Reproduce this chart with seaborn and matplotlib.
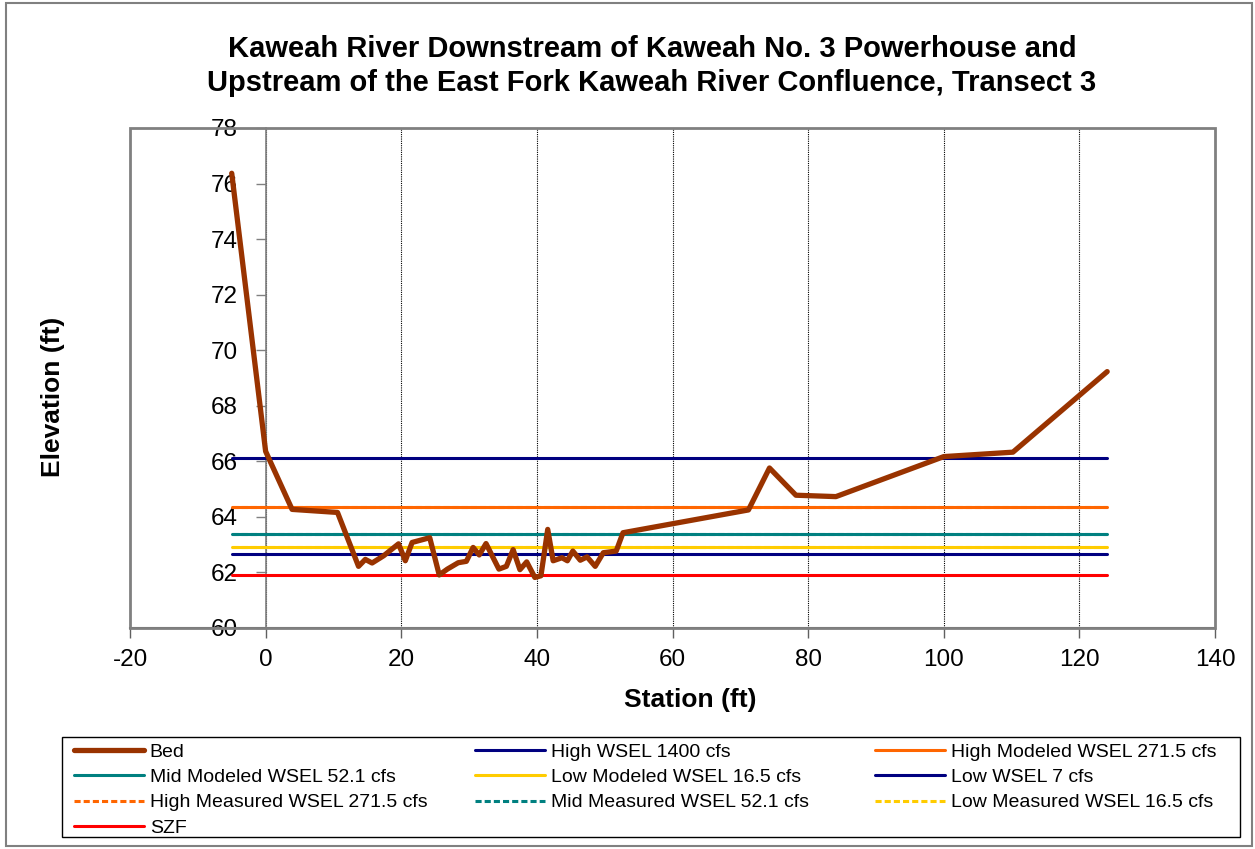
import numpy as np
import pandas as pd
import matplotlib
matplotlib.use("Agg")
import matplotlib.pyplot as plt
from matplotlib.patches import Rectangle
from matplotlib.lines import Line2D
import seaborn as sns

# ---------------- data ----------------
title_lines = ["Kaweah River Downstream of Kaweah No. 3 Powerhouse and",
               "Upstream of the East Fork Kaweah River Confluence, Transect 3"]
x_label = "Station (ft)"
y_label = "Elevation (ft)"

bed_x = [-5, 0, 3.9, 10.6, 13.7, 14.7, 15.7, 17.4, 19.6, 20.6, 21.6, 24.2,
         25.6, 26.8, 28.4, 29.6, 30.6, 31.5, 32.5, 34.4, 35.5, 36.5, 37.5,
         38.5, 39.7, 40.6, 41.6, 42.4, 43.7, 44.5, 45.3, 46.4, 47.4, 48.6,
         49.8, 51.7, 52.7, 71.2, 74.3, 78.2, 84.1, 100.0, 110.2, 124.1]
bed_y = [76.37, 66.36, 64.27, 64.16, 62.22, 62.47, 62.34, 62.60, 63.03, 62.42,
         63.08, 63.25, 61.91, 62.12, 62.35, 62.40, 62.90, 62.63, 63.04, 62.12,
         62.22, 62.82, 62.10, 62.38, 61.82, 61.88, 63.55, 62.42, 62.53, 62.42,
         62.77, 62.44, 62.56, 62.22, 62.71, 62.77, 63.43, 64.25, 65.76, 64.78,
         64.73, 66.17, 66.33, 69.23]

wsel_names = ["High WSEL 1400 cfs", "High Modeled WSEL 271.5 cfs",
              "Mid Modeled WSEL 52.1 cfs", "Low Modeled WSEL 16.5 cfs",
              "Low WSEL 7 cfs", "High Measured WSEL 271.5 cfs",
              "Mid Measured WSEL 52.1 cfs", "Low Measured WSEL 16.5 cfs", "SZF"]
wsel_values = [66.12, 64.35, 63.37, 62.92, 62.68, 64.37, 63.40, 62.93, 61.90]
wsel_start = [-5, -5, -5, -5, -5, -5, -5, -5, -5]
wsel_end = [124.1] * 9

x_ticks = [-20, 0, 20, 40, 60, 80, 100, 120, 140]
y_ticks = [60, 62, 64, 66, 68, 70, 72, 74, 76, 78]

# ---------------- styles ----------------
bed_color = "#993300"
wsel_colors = ["#000080", "#FF6600", "#008080", "#FFCC00", "#000080",
               "#FF6600", "#008080", "#FFCC00", "#FF0000"]
wsel_dashed = [False, False, False, False, False, True, True, True, False]
dash = (0, (2.0, 1.0))

sns.set_style("white")
plt.rcParams["font.family"] = ["Liberation Sans", "DejaVu Sans"]
plt.rcParams.update({
    "xtick.bottom": True, "ytick.left": True,
    "xtick.major.size": 7, "ytick.major.size": 7,
    "xtick.major.width": 1.0, "ytick.major.width": 1.0,
    "xtick.direction": "out", "ytick.direction": "out",
    "xtick.major.pad": 8, "ytick.major.pad": 13,
    "xtick.color": "#606060", "ytick.color": "#808080",
    "xtick.labelcolor": "black", "ytick.labelcolor": "black",
    "xtick.labelsize": 17.5, "ytick.labelsize": 17.5,
    "text.color": "black", "axes.labelcolor": "black",
})

W, H = 1255, 849
fig = plt.figure(figsize=(W / 100, H / 100), dpi=100)
fig.patch.set_facecolor("white")

L, R, T, B = 130, 1215, 128, 628
ax = fig.add_axes([L / W, 1 - B / H, (R - L) / W, (B - T) / H])
ax.set_facecolor("white")

# dotted vertical gridlines (below data)
for gx in x_ticks[1:-1]:
    ax.axvline(gx, color="black", linestyle=(0, (1, 1)), linewidth=0.8, zorder=1)

# horizontal WSEL lines
for name, v, x0, x1, c, d in zip(wsel_names, wsel_values, wsel_start, wsel_end,
                                 wsel_colors, wsel_dashed):
    sns.lineplot(x=[x0, x1], y=[v, v], ax=ax, color=c, lw=2.2,
                 linestyle=dash if d else "-", legend=False, zorder=2.2)

# bed profile
sns.lineplot(x=bed_x, y=bed_y, ax=ax, color=bed_color, lw=3.8, sort=False,
             legend=False, zorder=2.4, solid_joinstyle="round", solid_capstyle="round")

# spines: y axis crosses at station 0
for s in ["top", "right"]:
    ax.spines[s].set_visible(False)
ax.spines["left"].set_position(("data", 0))
ax.spines["left"].set_color("#808080")
ax.spines["left"].set_linewidth(1.2)
ax.spines["left"].set_zorder(1.5)
ax.spines["bottom"].set_color("#606060")
ax.spines["bottom"].set_linewidth(1.5)
ax.add_patch(Rectangle((0, 0), 1, 1, transform=ax.transAxes, fill=False,
                       ec="#808080", lw=2.0, clip_on=False, zorder=6))

ax.set_xlim(-20, 140)
ax.set_ylim(60, 78)
ax.set_xticks(x_ticks)
ax.set_yticks(y_ticks)
ax.set_xticklabels([str(t) for t in x_ticks])
ax.set_yticklabels([str(t) for t in y_ticks])

ax.tick_params(axis="x", which="major", direction="out", length=7, width=1.0,
               color="#606060", labelsize=17.5, pad=8, bottom=True)
ax.tick_params(axis="y", which="major", direction="out", length=7, width=1.0,
               color="#808080", labelsize=17.5, pad=13, left=True)
ax.grid(False)

ax.set_xlabel(x_label, fontsize=19, fontweight="bold")
ax.set_ylabel(y_label, fontsize=19, fontweight="bold")
ax.xaxis.set_label_coords((690 - L) / (R - L), -(700 - B) / (B - T))
ax.xaxis.label.set_va("center")
ax.yaxis.set_label_coords((53 - L) / (R - L), (B - 397) / (B - T))
ax.yaxis.label.set_va("center")

# title
fig.text(652 / W, 1 - 49 / H, title_lines[0], ha="center", va="center",
         fontsize=21, fontweight="bold")
fig.text(652 / W, 1 - 83 / H, title_lines[1], ha="center", va="center",
         fontsize=21, fontweight="bold")

# legend (three columns, row-wise order as in the reference)
def handle(c, lw, d):
    return Line2D([], [], color=c, lw=lw, linestyle=dash if d else "-")

h_bed = handle(bed_color, 3.8, False)
hs = {n: handle(c, 2.2, d) for n, c, d in zip(wsel_names, wsel_colors, wsel_dashed)}
columns = [
    [("Bed", h_bed), ("Mid Modeled WSEL 52.1 cfs", hs["Mid Modeled WSEL 52.1 cfs"]),
     ("High Measured WSEL 271.5 cfs", hs["High Measured WSEL 271.5 cfs"]),
     ("SZF", hs["SZF"])],
    [("High WSEL 1400 cfs", hs["High WSEL 1400 cfs"]),
     ("Low Modeled WSEL 16.5 cfs", hs["Low Modeled WSEL 16.5 cfs"]),
     ("Mid Measured WSEL 52.1 cfs", hs["Mid Measured WSEL 52.1 cfs"])],
    [("High Modeled WSEL 271.5 cfs", hs["High Modeled WSEL 271.5 cfs"]),
     ("Low WSEL 7 cfs", hs["Low WSEL 7 cfs"]),
     ("Low Measured WSEL 16.5 cfs", hs["Low Measured WSEL 16.5 cfs"])],
]
col_x = [74, 475, 875]
for cx, col in zip(col_x, columns):
    fig.legend([h for _, h in col], [n for n, _ in col], loc="upper left",
               bbox_to_anchor=(cx / W, 1 - 743 / H), frameon=False,
               borderpad=0, borderaxespad=0, fontsize=14, handlelength=3.6,
               handletextpad=0.3, labelspacing=0.4)

fig.patches.append(Rectangle((62 / W, 1 - 837 / H), (1240 - 62) / W, 100 / H,
                             transform=fig.transFigure, fill=False, ec="black",
                             lw=1.0))
fig.patches.append(Rectangle((6 / W, 3 / H), (1252 - 6) / W, (846 - 3) / H,
                             transform=fig.transFigure, fill=False, ec="#808080",
                             lw=1.5))

fig.savefig("out.png", dpi=100, facecolor="white")
